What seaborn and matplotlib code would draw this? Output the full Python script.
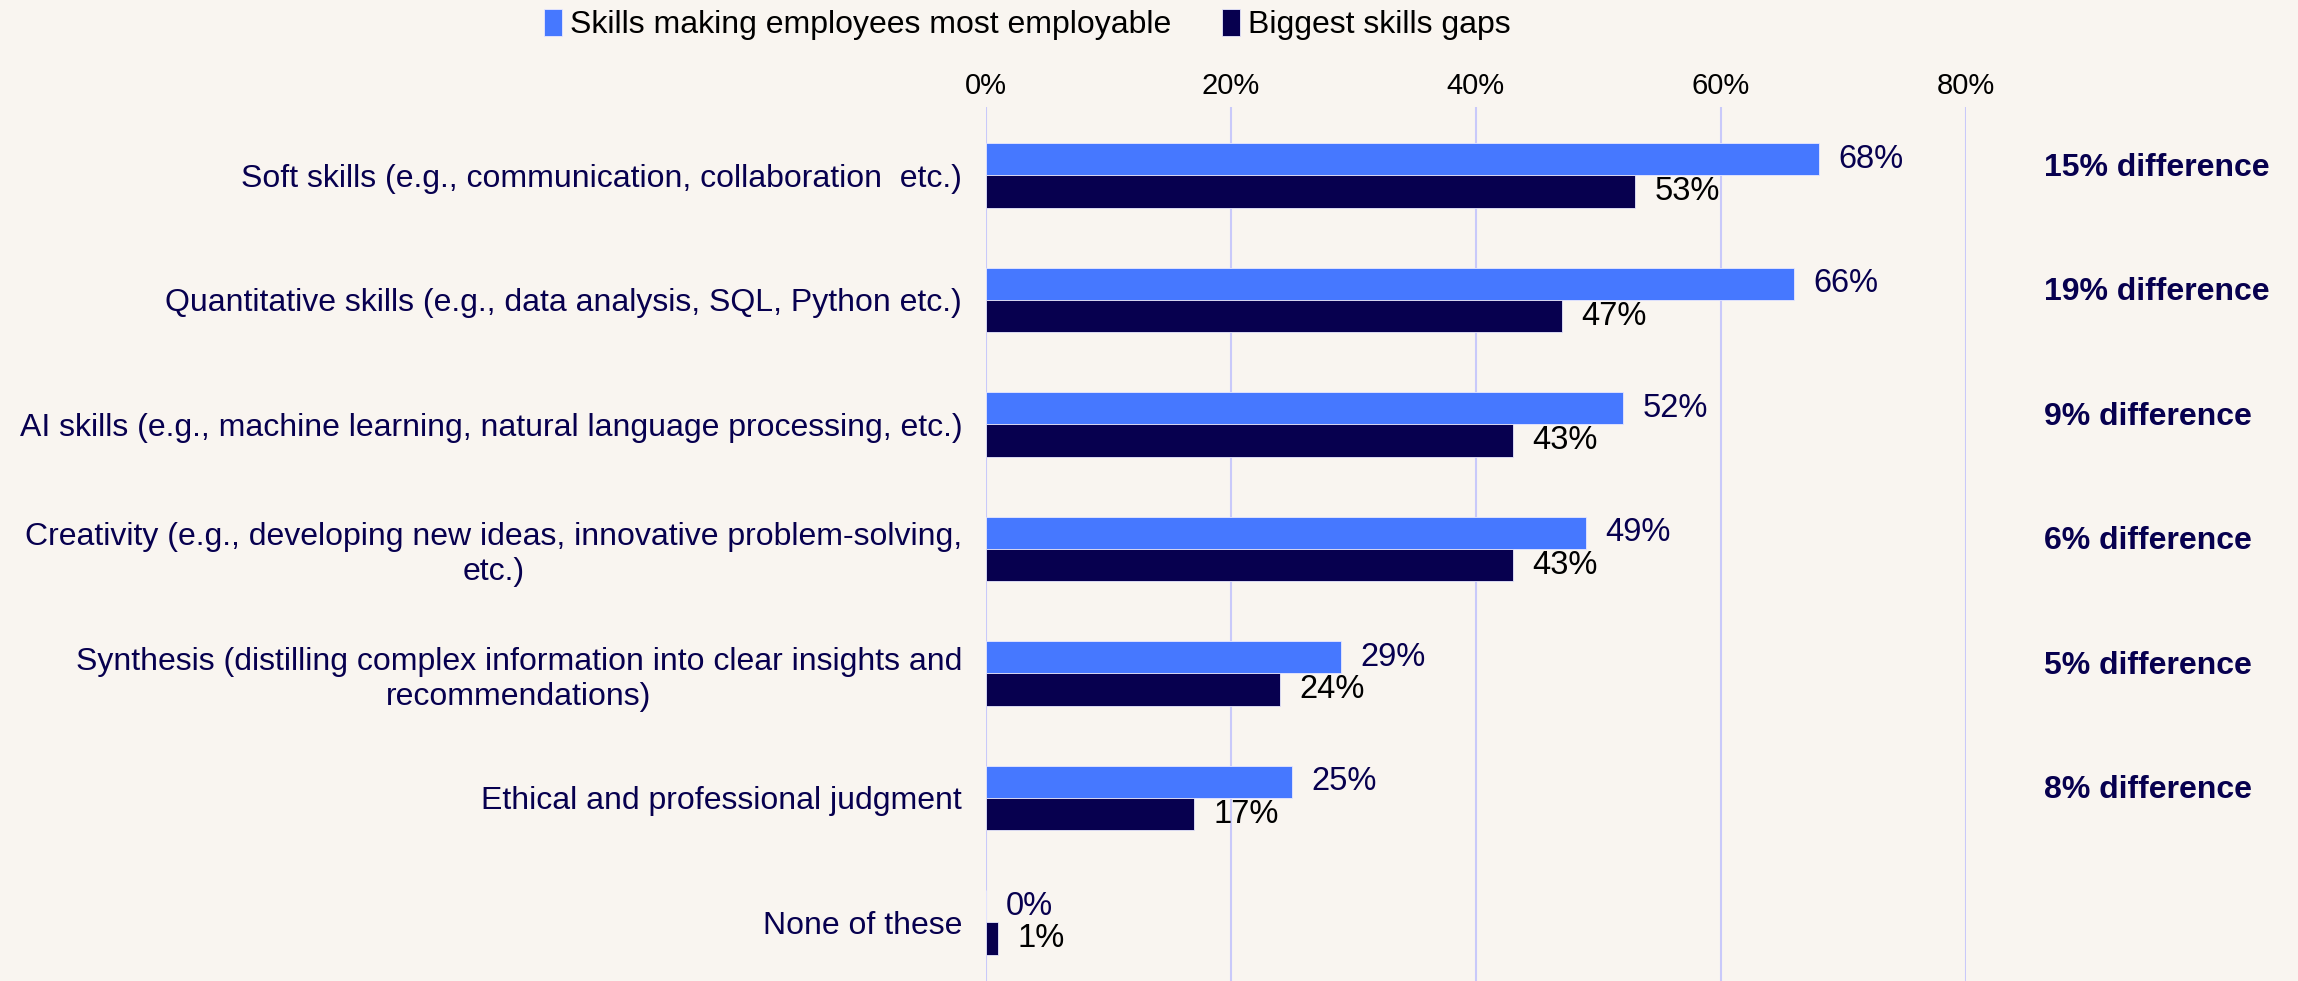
import numpy as np
import pandas as pd
import matplotlib
matplotlib.use("Agg")
import matplotlib.pyplot as plt
import seaborn as sns

# chart data
categories = [
    "Soft skills (e.g., communication, collaboration  etc.)",
    "Quantitative skills (e.g., data analysis, SQL, Python etc.)",
    "AI skills (e.g., machine learning, natural language processing, etc.)",
    "Creativity (e.g., developing new ideas, innovative problem-solving,\netc.)",
    "Synthesis (distilling complex information into clear insights and\nrecommendations)",
    "Ethical and professional judgment",
    "None of these",
]
series_names = ["Skills making employees most employable", "Biggest skills gaps"]
employable = [68, 66, 52, 49, 29, 25, 0]
gaps = [53, 47, 43, 43, 24, 17, 1]
diff_labels = ["15% difference", "19% difference", "9% difference",
               "6% difference", "5% difference", "8% difference"]
x_ticks = [0, 20, 40, 60, 80]

BG = "#F9F5F0"
BLUE = "#4678FF"
NAVY = "#07004F"
GRID = "#C9C9FA"

df = pd.DataFrame({
    "category": categories * 2,
    "series": [series_names[0]] * len(categories) + [series_names[1]] * len(categories),
    "value": employable + gaps,
})

sns.set_style("white")
plt.rcParams["font.family"] = ["Liberation Sans", "DejaVu Sans"]

fig = plt.figure(figsize=(22.98, 9.81), dpi=100, facecolor=BG)
ax = fig.add_axes([0.429, 0.0, 0.4265, 0.891], facecolor=BG)

sns.barplot(data=df, y="category", x="value", hue="series", orient="h",
            palette=[BLUE, NAVY], saturation=1, width=0.52, ax=ax, errorbar=None,
            edgecolor="#E8E8FF", linewidth=0.6, zorder=3)

ax.set_xlim(0, 80)
ax.set_ylim(6.47, -0.55)
ax.set_xticks(x_ticks)
ax.set_xticklabels([f"{t}%" for t in x_ticks])
ax.xaxis.tick_top()
ax.tick_params(axis="x", length=0, pad=5, labelsize=21, labelcolor="black")
ax.tick_params(axis="y", length=0, pad=17, labelsize=23, labelcolor=NAVY)
for lbl in ax.get_yticklabels():
    lbl.set_multialignment("center")
ax.grid(axis="x", color=GRID, linewidth=1.5, zorder=0)
ax.set_xlabel("")
ax.set_ylabel("")
for s in ax.spines.values():
    s.set_visible(False)

# value labels
for cont, col in zip(ax.containers, [NAVY, "black"]):
    ax.bar_label(cont, labels=[f"{v:.0f}%" for v in cont.datavalues],
                 padding=14, fontsize=23.5, color=col)

# difference annotations
for i, txt in enumerate(diff_labels):
    ax.text(86.4, i - 0.06, txt, fontsize=23, fontweight="bold", color=NAVY,
            va="center", ha="left", clip_on=False)

# legend
handles, labels = ax.get_legend_handles_labels()
if ax.legend_:
    ax.legend_.remove()
leg = fig.legend(handles, labels, loc="upper center", bbox_to_anchor=(0.447, 1.02),
                 ncol=2, frameon=False, fontsize=23, handlelength=0.55, handleheight=0.9,
                 handletextpad=0.25, columnspacing=1.6)
for t in leg.get_texts():
    t.set_color("black")

fig.savefig("out.png", dpi=100, facecolor=BG)
